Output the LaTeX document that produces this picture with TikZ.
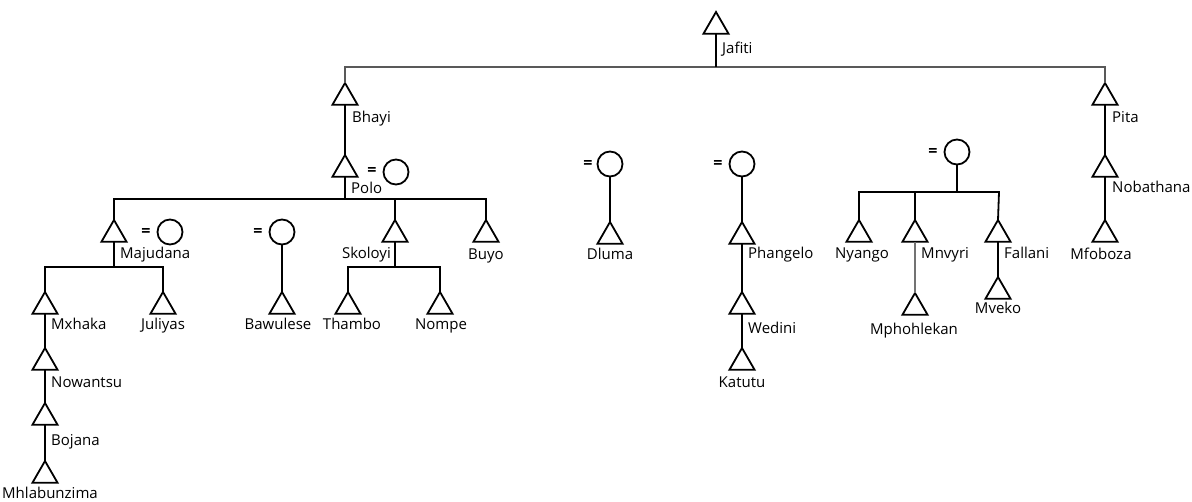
\documentclass[tikz,border=0pt]{standalone}
\usepackage{fontspec}
\setmainfont{Open Sans}
\usetikzlibrary{shapes.geometric}
\begin{document}
\begin{tikzpicture}[x=1pt,y=-1pt,
  male/.style={regular polygon, regular polygon sides=3, draw, line width=1.8pt,
    minimum size=29pt, inner sep=0pt, outer sep=0pt, fill=white, anchor=north},
  female/.style={circle, draw, line width=1.8pt, minimum size=25pt,
    inner sep=0pt, outer sep=0pt, fill=white},
  eqsign/.style={inner sep=0pt, font=\bfseries\fontsize{16}{18}\selectfont},
  lab/.style={inner sep=0pt, font=\fontsize{15}{17}\selectfont},
  labw/.style={lab, anchor=base west},
  labc/.style={lab, anchor=base},
  labe/.style={lab, anchor=base east},
  kin/.style={line width=1.8pt, line join=miter},
  topline/.style={line width=2.6pt, draw=black!65, line join=miter},
]
\useasboundingbox (0,0) rectangle (1192,501);

% ---- people (triangles placed by their apex) ----
\node[male] (jafiti) at (716,12) {};
\node[male] (bhayi) at (345,83) {};
\node[male] (pita) at (1105,83) {};
\node[male] (polo) at (345,155) {};
\node[male] (nobathana) at (1105,155) {};
\node[male] (majudana) at (114,220) {};
\node[male] (skoloyi) at (395,220) {};
\node[male] (buyo) at (486,220) {};
\node[male] (mxhaka) at (45,292) {};
\node[male] (juliyas) at (163,292) {};
\node[male] (bawulese) at (282,292) {};
\node[male] (thambo) at (348,292) {};
\node[male] (nompe) at (440,292) {};
\node[male] (nowantsu) at (45,348) {};
\node[male] (bojana) at (45,403) {};
\node[male] (mhlabunzima) at (45,461) {};
\node[male] (dluma) at (610,222) {};
\node[male] (phangelo) at (742,222) {};
\node[male] (wedini) at (742,292) {};
\node[male] (katutu) at (742,348) {};
\node[male] (nyango) at (859,220) {};
\node[male] (mnvyri) at (915,220) {};
\node[male] (mphohlekan) at (915,293) {};
\node[male] (fallani) at (998,220) {};
\node[male] (mveko) at (998,277) {};
\node[male] (mfoboza) at (1105,220) {};

% ---- wives ----
\node[female] (wpolo) at (396,172) {};
\node[female] (wmaj) at (170,232) {};
\node[female] (wbaw) at (282,232) {};
\node[female] (wdluma) at (610,164) {};
\node[female] (wphang) at (742,164) {};
\node[female] (wright) at (957,152) {};
\node[eqsign] (eqpolo) at (372,171) {=};
\node[eqsign] (eqmaj) at (146,232) {=};
\node[eqsign] (eqbaw) at (258,232) {=};
\node[eqsign] (eqdluma) at (588,164) {=};
\node[eqsign] (eqphang) at (718,164) {=};
\node[eqsign] (eqright) at (933,152) {=};

% ---- sibling bars ----
\coordinate (bar0L) at (345,67);
\coordinate (bar0R) at (1105,67);
\coordinate (barpolo) at (486,199);
\coordinate (barmaj) at (163,267);
\coordinate (barsko) at (440,267);
\coordinate (barright) at (999,192);

\draw[topline] (bhayi.north) -- (bar0L) -- (bar0R) -- (pita.north);
\draw[kin] (jafiti.south) -- (jafiti.south |- bar0L);

\draw[kin] (bhayi.south) -- (polo.north);
\draw[kin] (pita.south) -- (nobathana.north);
\draw[kin] (nobathana.south) -- (mfoboza.north);

\draw[kin] (majudana.north) |- (barpolo) -- (buyo.north);
\draw[kin] (polo.south) -- (polo.south |- barpolo);
\draw[kin] (skoloyi.north) -- (skoloyi.north |- barpolo);

\draw[kin] (mxhaka.north) |- (barmaj) -- (juliyas.north);
\draw[kin] (majudana.south) -- (majudana.south |- barmaj);
\draw[kin] (mxhaka.south) -- (nowantsu.north);
\draw[kin] (nowantsu.south) -- (bojana.north);
\draw[kin] (bojana.south) -- (mhlabunzima.north);

\draw[kin] (wbaw.south) -- (bawulese.north);

\draw[kin] (thambo.north) |- (barsko) -- (nompe.north);
\draw[kin] (skoloyi.south) -- (skoloyi.south |- barsko);

\draw[kin] (wdluma.south) -- (dluma.north);
\draw[kin] (wphang.south) -- (phangelo.north);
\draw[kin] (phangelo.south) -- (wedini.north);
\draw[kin] (wedini.south) -- (katutu.north);

\draw[kin] (nyango.north) |- (barright) -- (fallani.north);
\draw[kin] (wright.south) -- (wright.south |- barright);
\draw[line width=2.8pt] (nyango.north |- barright) -- (mnvyri.north |- barright) -- (mnvyri.north);
\draw[line width=1.3pt, draw=black!55] (mnvyri.south) -- (mphohlekan.north);
\draw[kin] (fallani.south) -- (mveko.north);

% ---- names ----
\node[labw] (tjafiti) at (722,53) {Jafiti};
\node[labw] (tbhayi) at (352,122) {Bhayi};
\node[labw] (tpita) at (1112,122) {Pita};
\node[labw] (tpolo) at (351,193) {Polo};
\node[labw] (tnobathana) at (1112,192) {Nobathana};
\node[labw] (tmajudana) at (120,258) {Majudana};
\node[labe] (tskoloyi) at (391,258) {Skoloyi};
\node[labc] (tbuyo) at (486,259) {Buyo};
\node[labw] (tmxhaka) at (51,329) {Mxhaka};
\node[labc] (tjuliyas) at (163,329) {Juliyas};
\node[labc] (tbawulese) at (278,329) {Bawulese};
\node[labc] (tthambo) at (352,329) {Thambo};
\node[labc] (tnompe) at (441,329) {Nompe};
\node[labw] (tnowantsu) at (51,387) {Nowantsu};
\node[labw] (tbojana) at (51,445) {Bojana};
\node[labc] (tmhlabunzima) at (50,498) {Mhlabunzima};
\node[labc] (tdluma) at (610,259) {Dluma};
\node[labw] (tphangelo) at (748,258) {Phangelo};
\node[labw] (twedini) at (748,333) {Wedini};
\node[labc] (tkatutu) at (742,387) {Katutu};
\node[labc] (tnyango) at (862,258) {Nyango};
\node[labw] (tmnvyri) at (921,258) {Mnvyri};
\node[labc] (tmphohlekan) at (914,334) {Mphohlekan};
\node[labw] (tfallani) at (1004,258) {Fallani};
\node[labc] (tmveko) at (998,313) {Mveko};
\node[labc] (tmfoboza) at (1101,259) {Mfoboza};
\end{tikzpicture}
\end{document}
